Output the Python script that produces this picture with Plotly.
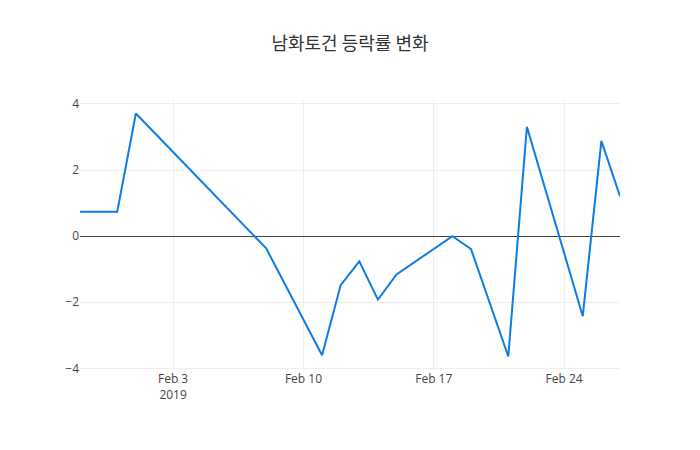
import plotly.graph_objects as go

dates = [
    "2019-01-29", "2019-01-31", "2019-02-01", "2019-02-08", "2019-02-11",
    "2019-02-12", "2019-02-13", "2019-02-14", "2019-02-15", "2019-02-18",
    "2019-02-19", "2019-02-21", "2019-02-22", "2019-02-25", "2019-02-26",
    "2019-02-27",
]
change_rate = [
    0.74, 0.74, 3.71, -0.37, -3.6,
    -1.48, -0.76, -1.92, -1.16, 0.0,
    -0.39, -3.64, 3.31, -2.42, 2.88,
    1.21,
]

fig = go.Figure(
    go.Scatter(
        x=dates,
        y=change_rate,
        mode="lines",
        line=dict(color="#0c7ce6", width=2),
    )
)

fig.update_layout(
    template="none",
    width=700,
    height=450,
    title=dict(
        text="남화토건 등락률 변화",
        x=0.5,
        font=dict(family="Noto Sans CJK KR, Open Sans", size=18, color="#333"),
    ),
    font=dict(family="Open Sans, Noto Sans CJK KR", size=12, color="#444"),
    margin=dict(l=80, r=80, t=100, b=80),
    xaxis=dict(showgrid=True, gridcolor="#eee", zeroline=False),
    yaxis=dict(showgrid=True, gridcolor="#eee", zeroline=True,
               zerolinecolor="#444", zerolinewidth=1),
    showlegend=False,
)

# drop the browser's default 8px body margin so the chart sits at 0,0
fig.write_html(
    "out.html",
    config={"displayModeBar": False},
    post_script="document.body.style.margin='0';",
)
